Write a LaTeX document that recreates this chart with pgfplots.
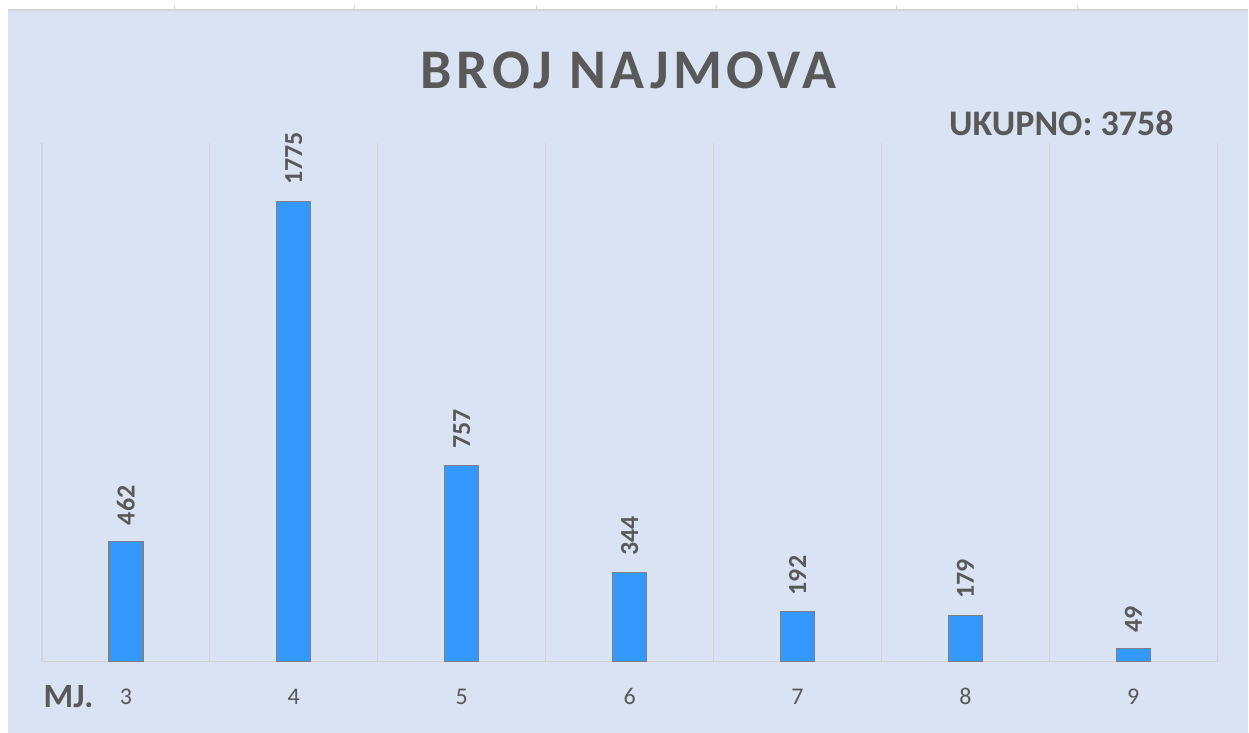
\documentclass[border=0pt]{standalone}
\usepackage{pgfplots}
\pgfplotsset{compat=1.18}
\usepackage{fontspec}
\setmainfont{Carlito}
\definecolor{bg}{HTML}{DAE3F3}
\definecolor{barblue}{HTML}{3399FF}
\definecolor{txt}{HTML}{595959}
\definecolor{gridc}{HTML}{D5D5D5}
\begin{document}
\begin{tikzpicture}
\fill[white] (0,0) rectangle (624.5pt,366.5pt);
\fill[bg] (4pt,0) rectangle (624.5pt,361.5pt);
\draw[gridc,line width=0.8pt] (4pt,361.5pt) -- (624.5pt,361.5pt);
\foreach \x in {175,355,537,717,897,1078} {\draw[gridc,line width=0.6pt] (\x*0.5pt,361.5pt) -- (\x*0.5pt,364pt);}
\begin{axis}[
  at={(21pt,35.5pt)}, anchor=south west,
  width=588pt, height=259.5pt, scale only axis,
  xmin=-0.5, xmax=6.5, ymin=0, ymax=2000,
  axis x line*=bottom, axis y line=none,
  x axis line style={gridc, line width=0.8pt, -},
  xtick={0,...,6}, xticklabels={3,4,5,6,7,8,9},
  major tick length=0pt,
  minor xtick={-0.5,0.5,...,6.5},
  minor tick length=0pt,
  minor x grid style={gridc, line width=0.6pt},
  xminorgrids=true,
  xticklabel style={font=\fontsize{12}{12}\selectfont, text=txt, anchor=center, yshift=-17.5pt},
  ytick=\empty,
  ybar, bar width=17pt,
  /pgf/number format/assume math mode=true,
  /pgf/number format/1000 sep={},
  nodes near coords,
  every node near coord/.append style={rotate=90, anchor=west, font=\bfseries\fontsize{13}{13}\selectfont, text=txt, inner xsep=8pt, inner ysep=0pt},
  clip=false,
]
\addplot[fill=barblue, draw=black!50, line width=0.6pt] coordinates {(0,462) (1,1775) (2,757) (3,344) (4,192) (5,179) (6,49)};
\end{axis}
\node[text=txt, font=\bfseries\fontsize{28}{28}\selectfont\addfontfeature{LetterSpace=8}] at (314.5pt,331.5pt) {BROJ NAJMOVA};
\node[text=txt, font=\bfseries\fontsize{18}{18}\selectfont] at (531pt,305pt) {UKUPNO: 3758};
\node[text=txt, font=\bfseries\fontsize{17}{17}\selectfont] at (34.25pt,18pt) {MJ.};
\end{tikzpicture}
\end{document}
